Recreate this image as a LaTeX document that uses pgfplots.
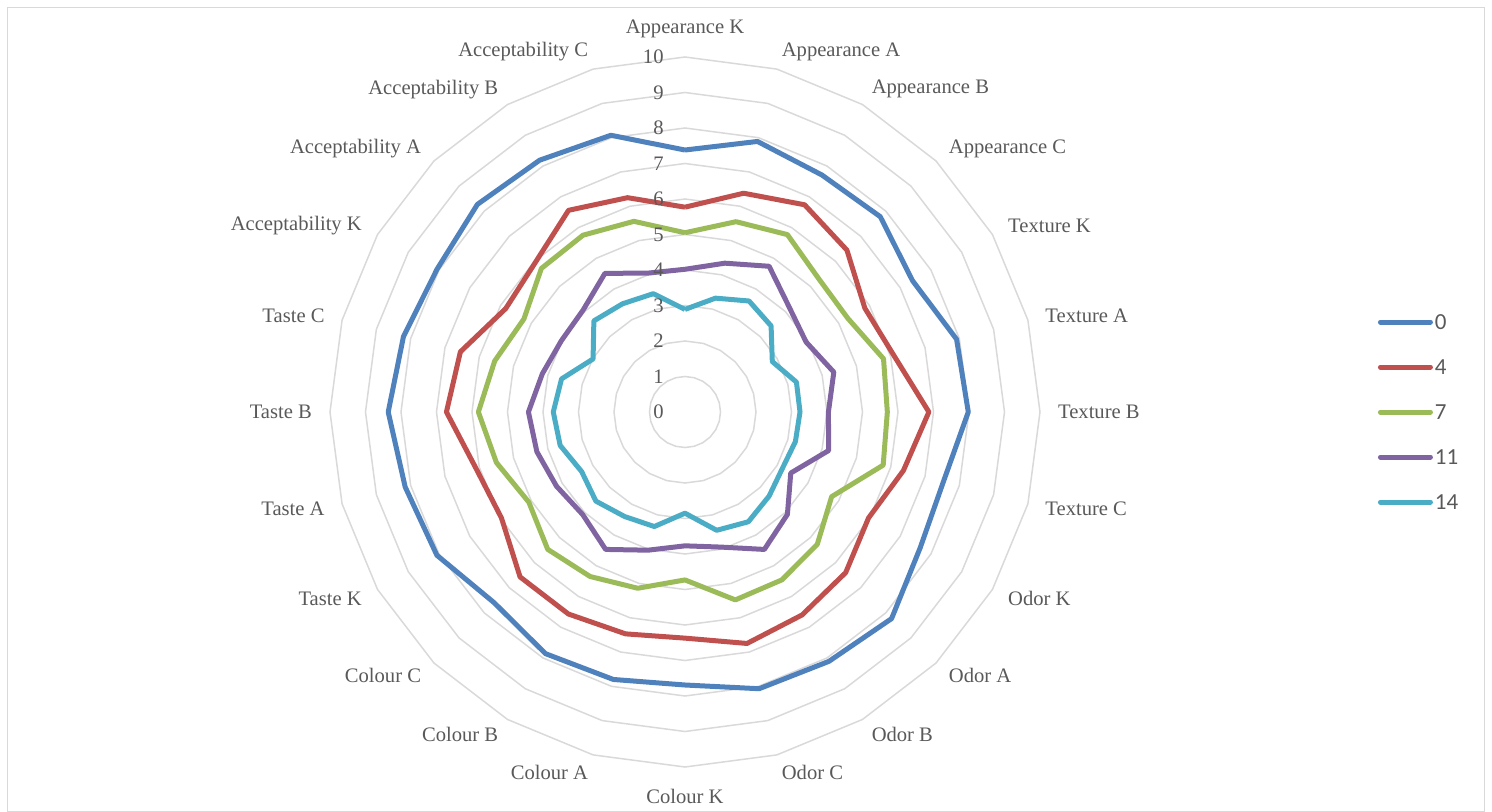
\documentclass[border=0pt]{standalone}
\usepackage{fontspec}
\setmainfont{Liberation Serif}
\newfontfamily\legfont{Carlito}
\usepackage{pgfplots}
\usepgfplotslibrary{polar}
\pgfplotsset{compat=1.18}

\definecolor{sBlue}{HTML}{4F81BD}
\definecolor{sRed}{HTML}{C0504D}
\definecolor{sGreen}{HTML}{9BBB59}
\definecolor{sPurple}{HTML}{8064A2}
\definecolor{sCyan}{HTML}{4BACC6}
\definecolor{gridc}{HTML}{D9D9D9}
\definecolor{txt}{HTML}{595959}

\begin{document}
\begin{tikzpicture}[lbl/.style={inner sep=0pt, text=txt, font=\fontsize{10.3}{12}\selectfont}]
\begin{polaraxis}[
    at={(0,0)}, anchor=center,
    scale only axis, width=355pt, height=355pt,
    xmin=0, xmax=360, ymin=0, ymax=10,
    hide axis, clip=false,
    legend image code/.code={\draw[#1, line cap=round] (1.25pt,0pt) -- (26.25pt,0pt);},
    legend style={at={(1.4754,0.5)}, anchor=west, draw=none, fill=none,
        inner sep=0pt, row sep=15.3pt, column sep=1pt,
        font=\legfont\fontsize{11.5}{13}\selectfont, text=txt,
        nodes={inner sep=0pt, text height=7.2pt, text depth=0pt}},
    legend cell align=left,
    every axis plot/.append style={line width=2.5pt, line join=round},
]

% grid polygons (levels 1..10)
\pgfplotsinvokeforeach{1,...,10}{
    \draw[gridc, line width=0.75pt] (axis cs:90,#1)
        \foreach \a in {75,60,...,-255} {-- (axis cs:\a,#1)} -- cycle;
}

% order: App K,A,B,C, Tex K,A,B,C, Odor K,A,B,C, Colour K,A,B,C, Taste K,A,B,C, Acc K,A,B,C
\addplot[sBlue] coordinates {
    (90,7.38) (75,7.89) (60,7.71) (45,7.78) (30,7.40) (15,7.92)
    (0,7.98) (-15,7.54) (-30,7.65) (-45,8.23) (-60,8.11) (-75,8.07)
    (-90,7.69) (-105,7.80) (-120,7.86) (-135,7.60) (-150,8.07) (-165,8.16)
    (-180,8.36) (-195,8.21) (-210,8.06) (-225,8.27) (-240,8.19) (-255,8.07)
    (-270,7.38)};
\addplot[sRed] coordinates {
    (90,5.77) (75,6.38) (60,6.74) (45,6.45) (30,5.85) (15,6.10)
    (0,6.87) (-15,6.37) (-30,5.97) (-45,6.40) (-60,6.60) (-75,6.75)
    (-90,6.37) (-105,6.47) (-120,6.57) (-135,6.57) (-150,5.97) (-165,6.10)
    (-180,6.72) (-195,6.55) (-210,5.83) (-225,5.96) (-240,6.56) (-255,6.25)
    (-270,5.77)};
\addplot[sGreen] coordinates {
    (90,5.05) (75,5.55) (60,5.77) (45,5.32) (30,5.29) (15,5.79)
    (0,5.70) (-15,5.78) (-30,4.77) (-45,5.27) (-60,5.46) (-75,5.48)
    (-90,4.73) (-105,5.14) (-120,5.35) (-135,5.47) (-150,5.08) (-165,5.50)
    (-180,5.82) (-195,5.55) (-210,5.24) (-225,5.72) (-240,5.75) (-255,5.56)
    (-270,5.05)};
\addplot[sPurple] coordinates {
    (90,4.02) (75,4.34) (60,4.74) (45,4.16) (30,3.94) (15,4.34)
    (0,4.04) (-15,4.19) (-30,3.44) (-45,4.08) (-60,4.47) (-75,3.94)
    (-90,3.77) (-105,4.03) (-120,4.47) (-135,4.08) (-150,4.18) (-165,4.32)
    (-180,4.41) (-195,4.16) (-210,4.02) (-225,4.06) (-240,4.51) (-255,4.05)
    (-270,4.02)};
\addplot[sCyan] coordinates {
    (90,2.89) (75,3.32) (60,3.61) (45,3.43) (30,2.84) (15,3.25)
    (0,3.24) (-15,3.22) (-30,3.17) (-45,3.35) (-60,3.57) (-75,3.45)
    (-90,2.85) (-105,3.34) (-120,3.40) (-135,3.55) (-150,3.36) (-165,3.64)
    (-180,3.71) (-195,3.60) (-210,2.99) (-225,3.63) (-240,3.52) (-255,3.45)
    (-270,2.89)};
\legend{0,4,7,11,14}

% radial value labels
\pgfplotsinvokeforeach{0,...,10}{
    \node[lbl, anchor=east, xshift=-10.5pt] at (axis cs:90,#1) {#1};
}

% category labels
\node[lbl, anchor=base] at (axis cs:90,10.65) {Appearance K};
\node[lbl, anchor=west] at (axis cs:75,10.5) {Appearance A};
\node[lbl, anchor=west] at (axis cs:60,10.5) {Appearance B};
\node[lbl, anchor=west] at (axis cs:45,10.5) {Appearance C};
\node[lbl, anchor=west] at (axis cs:30,10.5) {Texture K};
\node[lbl, anchor=west] at (axis cs:15,10.5) {Texture A};
\node[lbl, anchor=west] at (axis cs:0,10.5) {Texture B};
\node[lbl, anchor=west] at (axis cs:-15,10.5) {Texture C};
\node[lbl, anchor=west] at (axis cs:-30,10.5) {Odor K};
\node[lbl, anchor=west] at (axis cs:-45,10.5) {Odor A};
\node[lbl, anchor=west] at (axis cs:-60,10.5) {Odor B};
\node[lbl, anchor=west] at (axis cs:-75,10.5) {Odor C};
\node[lbl, anchor=base] at (axis cs:-90,11.04) {Colour K};
\node[lbl, anchor=east] at (axis cs:-105,10.5) {Colour A};
\node[lbl, anchor=east] at (axis cs:-120,10.5) {Colour B};
\node[lbl, anchor=east] at (axis cs:-135,10.5) {Colour C};
\node[lbl, anchor=east] at (axis cs:-150,10.5) {Taste K};
\node[lbl, anchor=east] at (axis cs:-165,10.5) {Taste A};
\node[lbl, anchor=east] at (axis cs:-180,10.5) {Taste B};
\node[lbl, anchor=east] at (axis cs:-195,10.5) {Taste C};
\node[lbl, anchor=east] at (axis cs:-210,10.5) {Acceptability K};
\node[lbl, anchor=east] at (axis cs:-225,10.5) {Acceptability A};
\node[lbl, anchor=east] at (axis cs:-240,10.5) {Acceptability B};
\node[lbl, anchor=east] at (axis cs:-255,10.5) {Acceptability C};
\end{polaraxis}

% chart frame and page size
\draw[gridc, line width=0.5pt] (-338.5pt,-199.5pt) rectangle (399.5pt,202pt);
\path (-342.5pt,-200pt) rectangle (403.5pt,206pt);
\end{tikzpicture}
\end{document}
